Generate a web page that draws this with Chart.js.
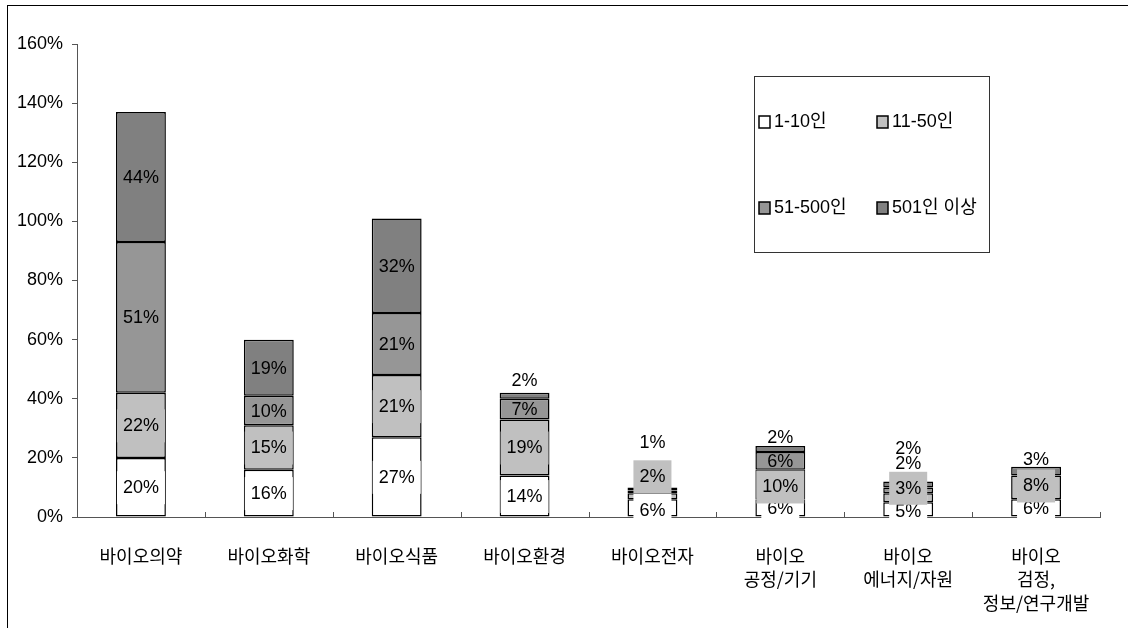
<!DOCTYPE html>
<html>
<head>
<meta charset="utf-8">
<script src="https://cdn.jsdelivr.net/npm/chart.js@4"></script>
<style>
  body { margin: 0; background: #fff; }
  #wrap { position: relative; width: 1128px; height: 628px; overflow: hidden; }
  #frame { position: absolute; left: 7px; top: 5px; width: 1300px; height: 800px; border: 1.5px solid #000; }
  #c { position: absolute; left: 0; top: 0; }
</style>
</head>
<body>
<div id="wrap">
  <div id="frame"></div>
  <canvas id="c" width="1128" height="628"></canvas>
</div>
<script>
// categories and series (percent of firms by size class)
const categories = ['바이오의약', '바이오화학', '바이오식품', '바이오환경', '바이오전자',
    ['바이오', '공정/기기'], ['바이오', '에너지/자원'], ['바이오', '검정,', '정보/연구개발']];
const seriesNames = ['1-10인', '11-50인', '51-500인', '501인 이상'];
const size1to10 = [20, 16, 27, 14, 6, 6, 5, 6];
const size11to50 = [22, 15, 21, 19, 2, 10, 3, 8];
const size51to500 = [51, 10, 21, 7, 1, 6, 2, 0];
const size501plus = [44, 19, 32, 2, 1, 2, 2, 3];
const yTicks = [0, 20, 40, 60, 80, 100, 120, 140, 160];

const seriesColors = ['#ffffff', '#c0c0c0', '#969696', '#808080'];
// label backgrounds per series (null = transparent)
const labelFills = ['#ffffff', '#c0c0c0', null, null];
// vertical nudges (px) for labels that were moved off small segments
const labelShift = [
    [0, 0, 0, 0, 2, 0, 2, 0],
    [0, 0, 0, 0, -20, 2, -10, -2],
    [0, 0, 0, 0, -50, 0, -27, 0],
    [0, 0, 0, -16, -47, -12, -36, -12]
];

const NUM_FONT = '"Liberation Sans", "Noto Sans CJK KR", sans-serif';
const KR_FONT = '"Noto Sans CJK KR", "Liberation Sans", sans-serif';

const barLabels = {
    id: 'barLabels',
    afterDatasetsDraw(chart) {
        const ctx = chart.ctx;
        const drawn = [];
        ctx.save();
        ctx.font = '18px ' + NUM_FONT;
        ctx.textAlign = 'center';
        ctx.textBaseline = 'middle';
        chart.data.datasets.forEach((ds, i) => {
            const meta = chart.getDatasetMeta(i);
            meta.data.forEach((bar, j) => {
                const v = ds.data[j];
                if (!v) return;
                const txt = v + '%';
                const y = (bar.y + bar.base) / 2 + labelShift[i][j];
                // labels that land on top of each other are only drawn once
                if (drawn.some(d => d.t === txt && Math.abs(d.x - bar.x) < 2 && Math.abs(d.y - y) < 6)) return;
                drawn.push({ t: txt, x: bar.x, y: y });
                if (labelFills[i]) {
                    const w = ctx.measureText(txt).width + 12;
                    ctx.fillStyle = labelFills[i];
                    ctx.fillRect(bar.x - w / 2, y - 16, w, 33);
                }
                ctx.fillStyle = '#000';
                ctx.fillText(txt, bar.x, y + 1);
            });
        });
        ctx.restore();
    }
};

const axisExtras = {
    id: 'axisExtras',
    afterDraw(chart) {
        const ctx = chart.ctx;
        const xs = chart.scales.x;
        const n = categories.length;
        ctx.save();
        ctx.strokeStyle = '#555';
        ctx.lineWidth = 1;
        for (let i = 1; i <= n; i++) {
            const x = Math.round(xs.left + i * xs.width / n) + 0.5;
            ctx.beginPath();
            ctx.moveTo(x, xs.top);
            ctx.lineTo(x, xs.top - 5);
            ctx.stroke();
        }
        // legend box
        const box = { x: 754, y: 76, w: 235, h: 176 };
        ctx.strokeStyle = '#333';
        ctx.strokeRect(box.x + 0.5, box.y + 0.5, box.w, box.h);
        ctx.font = '18px ' + NUM_FONT;
        ctx.textBaseline = 'middle';
        ctx.textAlign = 'left';
        chart.data.datasets.forEach((ds, i) => {
            const col = i % 2, row = Math.floor(i / 2);
            const lx = box.x + 5 + col * 118;
            const ly = box.y + 46 + row * 86;
            ctx.fillStyle = ds.backgroundColor;
            ctx.fillRect(lx, ly - 6, 11, 12);
            ctx.strokeStyle = '#000';
            ctx.lineWidth = 1.5;
            ctx.strokeRect(lx, ly - 6, 11, 12);
            ctx.fillStyle = '#000';
            ctx.fillText(ds.label, lx + 15, ly);
        });
        ctx.restore();
    }
};

const seriesData = [size1to10, size11to50, size51to500, size501plus];

new Chart(document.getElementById('c'), {
    type: 'bar',
    data: {
        labels: categories,
        datasets: seriesData.map((d, i) => ({
            label: seriesNames[i],
            data: d,
            backgroundColor: seriesColors[i],
            borderColor: '#000',
            borderWidth: 1.5,
            borderSkipped: false,
            barPercentage: 0.39,
            categoryPercentage: 1
        }))
    },
    options: {
        responsive: false,
        animation: false,
        layout: { padding: { left: 0, top: 44, right: 28, bottom: 0 } },
        plugins: { legend: { display: false }, tooltip: { enabled: false } },
        scales: {
            x: {
                stacked: true,
                grid: { display: false },
                border: { display: true, color: '#555', width: 1 },
                ticks: {
                    color: '#000',
                    padding: 19,
                    maxRotation: 0,
                    autoSkip: false,
                    font: { family: KR_FONT, size: 18, lineHeight: 1.32 }
                },
                afterFit: s => { s.height = 111; }
            },
            y: {
                stacked: true,
                min: 0,
                max: 160,
                afterBuildTicks: s => { s.ticks = yTicks.map(v => ({ value: v })); },
                grid: { drawOnChartArea: false, tickLength: 5, color: '#555' },
                border: { display: true, color: '#555', width: 1 },
                ticks: {
                    color: '#000',
                    padding: 9,
                    font: { family: NUM_FONT, size: 18 },
                    callback: v => v + '%'
                },
                afterFit: s => { s.width = 77; }
            }
        }
    },
    plugins: [barLabels, axisExtras]
});
</script>
</body>
</html>
